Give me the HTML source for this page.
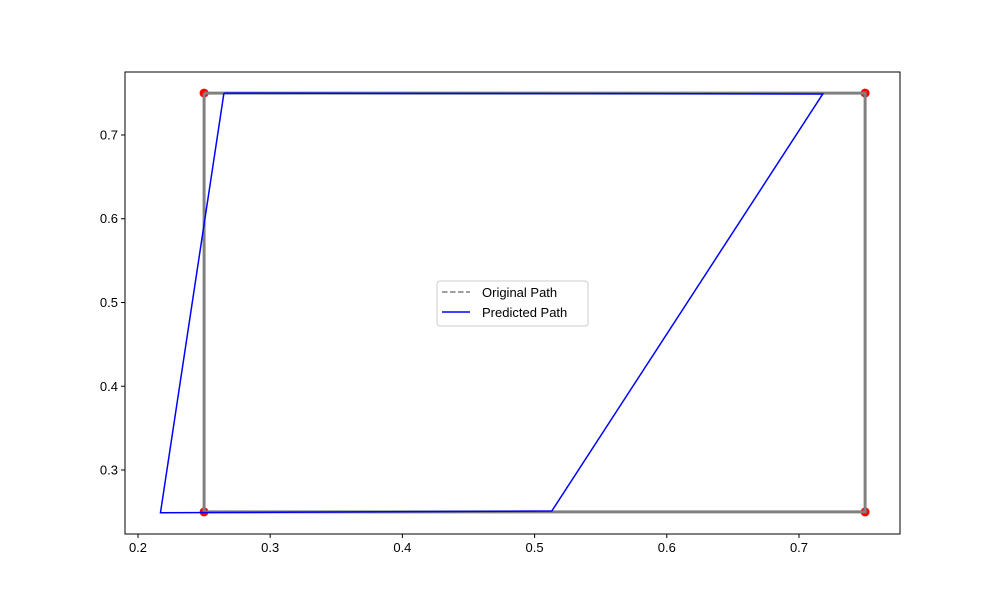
<!DOCTYPE html>
<html><head><meta charset="utf-8"><style>
body{margin:0;background:#fff;}
svg text{font-family:"Liberation Sans","DejaVu Sans",sans-serif;font-size:13px;fill:#000;}
</style></head><body>
<svg id="chart" width="1000" height="600" xmlns="http://www.w3.org/2000/svg">
<g id="plot"></g>
</svg>
<script>
const origX = [0.25, 0.75, 0.75, 0.25, 0.25];
const origY = [0.75, 0.75, 0.25, 0.25, 0.75];
const predX = [0.265, 0.718, 0.513, 0.217, 0.265];
const predY = [0.750, 0.749, 0.251, 0.249, 0.750];
const xTicks = [0.2, 0.3, 0.4, 0.5, 0.6, 0.7];
const yTicks = [0.3, 0.4, 0.5, 0.6, 0.7];
const xMin = 0.19017, xMax = 0.7764, yMin = 0.2236, yMax = 0.7752;
const L = 125, R = 900, T = 72, B = 534;
const sx = v => L + (v - xMin) / (xMax - xMin) * (R - L);
const sy = v => B - (v - yMin) / (yMax - yMin) * (B - T);
const NS = 'http://www.w3.org/2000/svg';
const g = document.getElementById('plot');
function mk(tag, attrs) { const e = document.createElementNS(NS, tag); for (const k in attrs) e.setAttribute(k, attrs[k]); g.appendChild(e); return e; }

// corner dots
for (let i = 0; i < 4; i++) {
  const c = mk('circle', {cx: sx(origX[i]), cy: sy(origY[i]), r: 4.5, fill: 'red'});
  
  
}
const op = mk('polyline', {points: origX.map((x, i) => sx(x) + ',' + sy(origY[i])).join(' '), fill: 'none', stroke: '#808080', 'stroke-width': 3});


const pp = mk('polyline', {points: predX.map((x, i) => sx(x) + ',' + sy(predY[i])).join(' '), fill: 'none', stroke: 'blue', 'stroke-width': 1.5});



const fr = mk('rect', {x: L, y: T, width: R - L, height: B - T, fill: 'none', stroke: '#000', 'stroke-width': 1});



xTicks.forEach(v => {
  const x = sx(v);
  const t = mk('line', {x1: x, x2: x, y1: B, y2: B + 4, stroke: '#000'});
  
  
  const tx = mk('text', {x: x, y: B + 18, 'text-anchor': 'middle'});
  tx.textContent = v.toFixed(1);
  
  
});
yTicks.forEach(v => {
  const y = sy(v);
  const t = mk('line', {x1: L - 4, x2: L, y1: y, y2: y, stroke: '#000'});
  
  
  const tx = mk('text', {x: L - 7, y: y + 4.5, 'text-anchor': 'end'});
  tx.textContent = v.toFixed(1);
  
  
});

// legend
const lg = mk('rect', {x: 437, y: 281, width: 151, height: 45, rx: 3, fill: '#fff', stroke: '#ccc'});


const l1 = mk('line', {x1: 442, x2: 470, y1: 292, y2: 292, stroke: '#808080', 'stroke-width': 1.5, 'stroke-dasharray': '5.5,2.5'});


const t1 = mk('text', {x: 482, y: 297});
t1.textContent = 'Original Path';


const l2 = mk('line', {x1: 442, x2: 470, y1: 312, y2: 312, stroke: 'blue', 'stroke-width': 1.5});


const t2 = mk('text', {x: 482, y: 317});
t2.textContent = 'Predicted Path';


</script>
</body></html>
